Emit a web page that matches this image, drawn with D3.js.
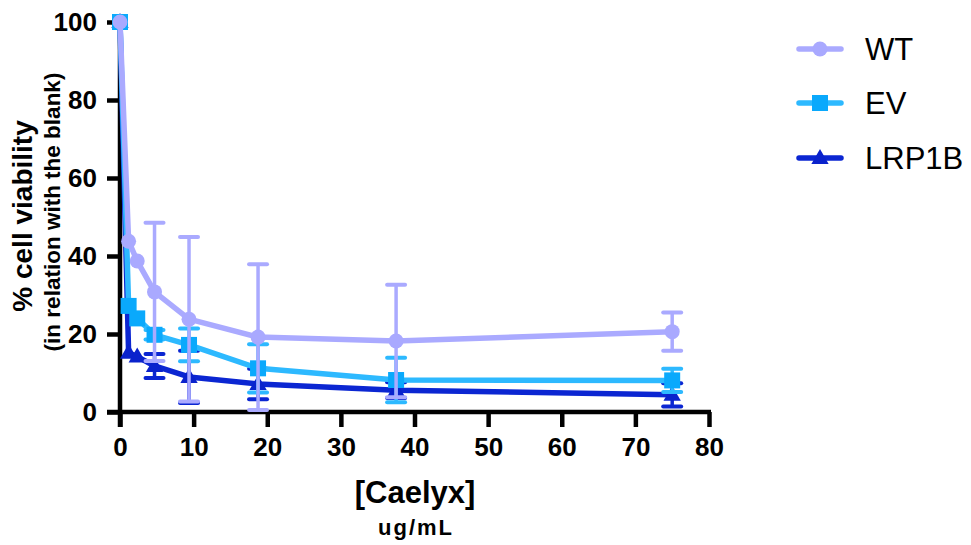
<!DOCTYPE html>
<html>
<head>
<meta charset="utf-8">
<script src="https://cdn.jsdelivr.net/npm/d3@7"></script>
<style>
body { margin: 0; background: #fff; }
text { font-family: "Liberation Sans", Arial, sans-serif; }
</style>
</head>
<body>
<div id="chart"></div>
<script>
// doses in ug/mL
var doses = [0, 1.17, 2.34, 4.69, 9.375, 18.75, 37.5, 75];
var seriesNames = ["WT", "EV", "LRP1B"];
var wtMean = [100, 43.8, 38.7, 30.8, 23.8, 19.2, 18.2, 20.6];
var wtErr = [0, 0, 0, 17.7, 21.1, 18.7, 14.4, 4.9];
var evMean = [100, 27.2, 24.0, 19.8, 17.2, 11.2, 8.2, 8.1];
var evErr = [0, 0, 0, 1.2, 4.2, 6.2, 5.7, 3.0];
var lrpMean = [100, 15.2, 14.2, 11.8, 9.0, 7.2, 5.6, 4.4];
var lrpErr = [0, 0, 0, 3.1, 6.7, 3.9, 2.0, 3.0];
var xTicks = [0, 10, 20, 30, 40, 50, 60, 70, 80];
var yTicks = [0, 20, 40, 60, 80, 100];

var w = 971, h = 545;
var padL = 120, padR = 709, padT = 22, padB = 412;

var svg = d3.select("#chart").append("svg")
  .attr("width", w)
  .attr("height", h);

var x = d3.scaleLinear().domain([0, 80]).range([padL, padR]);
var y = d3.scaleLinear().domain([0, 100]).range([padB, padT]);

var series = [
  {name: "LRP1B", mean: lrpMean, err: lrpErr, line: "#0b26d2", mark: "#0a22cc", shape: "tri"},
  {name: "EV", mean: evMean, err: evErr, line: "#2db9ff", mark: "#0aa9fc", shape: "sq"},
  {name: "WT", mean: wtMean, err: wtErr, line: "#aaaaff", mark: "#a9a9ff", shape: "circ"}
];

function drawMarker(g, shape, color, cx, cy) {
  if (shape == "circ") {
    g.append("circle").attr("cx", cx).attr("cy", cy).attr("r", 7.5).attr("fill", color);
  } else if (shape == "sq") {
    g.append("rect").attr("x", cx - 8).attr("y", cy - 8).attr("width", 16).attr("height", 16).attr("fill", color);
  } else {
    g.append("path")
      .attr("d", d3.symbol().type(d3.symbolTriangle).size(130)())
      .attr("transform", "translate(" + cx + "," + (cy + 1) + ")")
      .attr("fill", color);
  }
}

// axes
var xAxis = svg.append("g")
  .attr("transform", "translate(0," + padB + ")")
  .call(d3.axisBottom(x).tickValues(xTicks).tickSize(15).tickSizeOuter(0).tickPadding(11));
var yAxis = svg.append("g")
  .attr("transform", "translate(" + padL + ",0)")
  .call(d3.axisLeft(y).tickValues(yTicks).tickSize(13).tickSizeOuter(0).tickPadding(10));

[xAxis, yAxis].forEach(function(a) {
  a.select(".domain").attr("stroke", "#000").attr("stroke-width", 4.5);
  a.selectAll(".tick line").attr("stroke", "#000").attr("stroke-width", 4.5);
  a.selectAll(".tick text")
    .attr("fill", "#000")
    .style("font-size", "26px")
    .style("font-weight", "bold");
});
xAxis.select(".domain").attr("d", "M" + (padL - 13) + ",0H" + (padR + 2));
yAxis.select(".domain").attr("d", "M0," + (padT - 2) + "V" + (padB + 15));

// series
series.forEach(function(s) {
  var g = svg.append("g");
  var pts = doses.map(function(d, i) { return {x: d, m: s.mean[i], e: s.err[i]}; });

  // error bars
  pts.forEach(function(p) {
    if (p.e <= 0) return;
    var cx = x(p.x), y1 = y(p.m + p.e), y2 = y(Math.max(0, p.m - p.e));
    g.append("line").attr("x1", cx).attr("x2", cx).attr("y1", y1).attr("y2", y2)
      .attr("stroke", s.line).attr("stroke-width", 3.5);
    [y1, y2].forEach(function(yy) {
      g.append("line").attr("x1", cx - 9).attr("x2", cx + 9).attr("y1", yy).attr("y2", yy)
        .attr("stroke", s.line).attr("stroke-width", 4).attr("stroke-linecap", "round");
    });
  });

  var line = d3.line().x(function(p) { return x(p.x); }).y(function(p) { return y(p.m); });
  g.append("path").datum(pts)
    .attr("d", line)
    .attr("fill", "none")
    .attr("stroke", s.line)
    .attr("stroke-width", 5.5)
    .attr("stroke-linejoin", "round");

  pts.forEach(function(p) {
    drawMarker(g, s.shape, s.mark, x(p.x), y(p.m));
  });
});

// axis titles
svg.append("text")
  .attr("transform", "translate(32,216) rotate(-90)")
  .attr("text-anchor", "middle")
  .style("font-size", "28px").style("font-weight", "bold")
  .text("% cell viability");
svg.append("text")
  .attr("transform", "translate(60,212) rotate(-90)")
  .attr("text-anchor", "middle")
  .style("font-size", "22.5px").style("font-weight", "bold")
  .text("(in relation with the blank)");
svg.append("text")
  .attr("x", 415).attr("y", 503)
  .attr("text-anchor", "middle")
  .style("font-size", "31px").style("font-weight", "bold")
  .text("[Caelyx]");
svg.append("text")
  .attr("x", 416).attr("y", 535)
  .attr("text-anchor", "middle")
  .style("font-size", "22px").style("font-weight", "bold")
  .style("letter-spacing", "2px")
  .text("ug/mL");

// legend
var legendY = [49, 103, 158];
seriesNames.forEach(function(n, i) {
  var s = series.filter(function(d) { return d.name == n; })[0];
  var ly = legendY[i];
  svg.append("line").attr("x1", 799).attr("x2", 841).attr("y1", ly).attr("y2", ly)
    .attr("stroke", s.line).attr("stroke-width", 5.5).attr("stroke-linecap", "round");
  drawMarker(svg, s.shape, s.mark, 820, ly);
  svg.append("text")
    .attr("x", 865).attr("y", ly + 11)
    .style("font-size", "31px")
    .text(n);
});
</script>
</body>
</html>
